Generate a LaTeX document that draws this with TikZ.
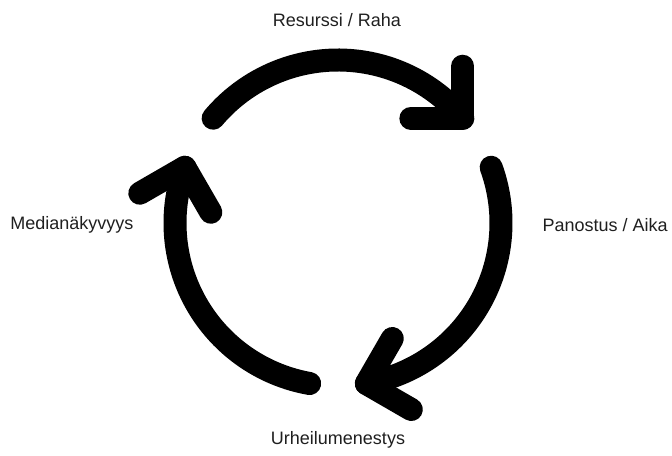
\documentclass[tikz,border=0pt]{standalone}
\usepackage{fontspec}
\setmainfont{Liberation Sans}
\begin{document}
\begin{tikzpicture}[x=0.75pt,y=0.75pt,
  cyc/.style={line width=17.25pt,line cap=round,line join=round,black},
  lbl/.style={font=\fontsize{13.5pt}{16pt}\selectfont,text=black!88,inner sep=0pt}]
\useasboundingbox (0,0) rectangle (672,456);
\coordinate (C) at (338,233);
% arcs
\draw[cyc] ([shift={(140:163)}]C) arc[start angle=140,end angle=40,radius=163];
\coordinate (t1) at ([shift={(40:163)}]C);
\draw[cyc] ([shift={(90:52)}]t1) -- (t1) -- ([shift={(180:52)}]t1);
\draw[cyc] ([shift={(20:163)}]C) arc[start angle=20,end angle=-80,radius=163];
\coordinate (t2) at ([shift={(-80:163)}]C);
\draw[cyc] ([shift={(-30:52)}]t2) -- (t2) -- ([shift={(60:52)}]t2);
\draw[cyc] ([shift={(-100:163)}]C) arc[start angle=-100,end angle=-200,radius=163];
\coordinate (t3) at ([shift={(160:163)}]C);
\draw[cyc] ([shift={(210:52)}]t3) -- (t3) -- ([shift={(300:52)}]t3);
% labels
\node[lbl] (res) at (337,436) {Resurssi / Raha};
\node[lbl,anchor=east] (pan) at (668,231) {Panostus / Aika};
\node[lbl,anchor=west] (med) at (10,231) {Medianäkyvyys};
\node[lbl] (urh) at (338,16) {Urheilumenestys};
\end{tikzpicture}
\end{document}
